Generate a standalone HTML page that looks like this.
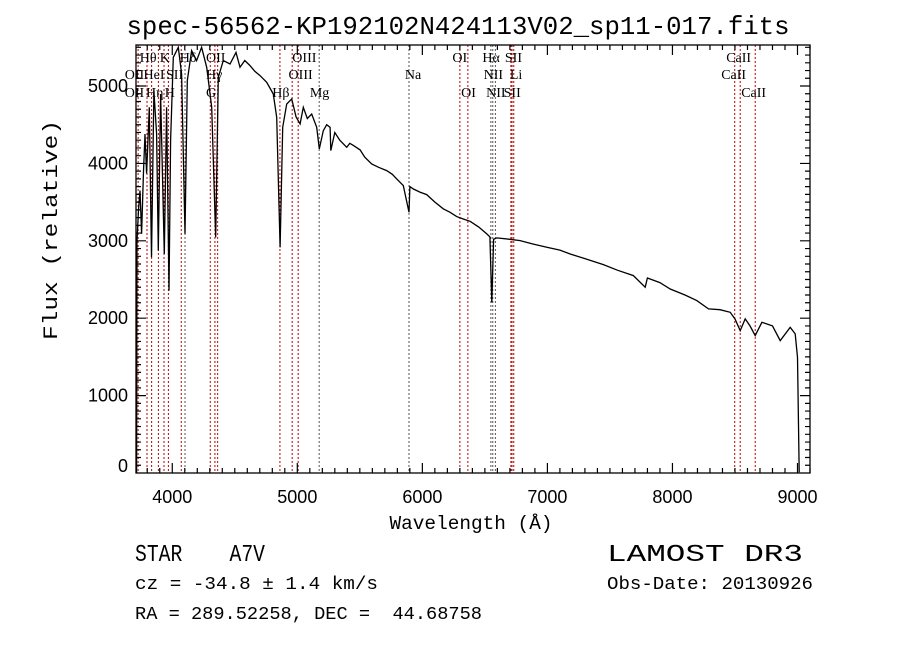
<!DOCTYPE html>
<html><head><meta charset="utf-8"><style>
html,body{margin:0;padding:0;background:#fff;}
svg{display:block;}
text{white-space:pre;}
</style></head><body>
<svg id="chart" width="900" height="649" xmlns="http://www.w3.org/2000/svg">
<rect width="900" height="649" fill="#fff"/>
<text x="458" y="34" text-anchor="middle" font-family="Liberation Mono, monospace" font-size="26" textLength="663" lengthAdjust="spacingAndGlyphs">spec-56562-KP192102N424113V02_sp11-017.fits</text>
<g id="lines"></g>
<g id="labels" font-family="Liberation Serif, serif" font-size="14"></g>
<g id="axes"></g>
<path id="spec" fill="none" stroke="#000" stroke-width="1.3" stroke-linejoin="miter"/>
<text x="471" y="529" text-anchor="middle" font-family="Liberation Mono, monospace" font-size="19" textLength="163" lengthAdjust="spacingAndGlyphs">Wavelength (Å)</text>
<text transform="translate(57,230) rotate(-90)" text-anchor="middle" font-family="Liberation Mono, monospace" font-size="20" textLength="220" lengthAdjust="spacingAndGlyphs">Flux (relative)</text>
<g font-family="Liberation Mono, monospace" fill="#000">
<text x="135" y="561" font-size="24" textLength="130" lengthAdjust="spacingAndGlyphs" xml:space="preserve">STAR    A7V</text>
<text x="607" y="561" font-size="24" textLength="196" lengthAdjust="spacingAndGlyphs">LAMOST DR3</text>
<text x="135" y="589" font-size="18" textLength="243" lengthAdjust="spacingAndGlyphs">cz = -34.8 ± 1.4 km/s</text>
<text x="607" y="589" font-size="18" textLength="206" lengthAdjust="spacingAndGlyphs">Obs-Date: 20130926</text>
<text x="135" y="619" font-size="18" textLength="347" lengthAdjust="spacingAndGlyphs" xml:space="preserve">RA = 289.52258, DEC =  44.68758</text>
</g>
</svg>
<script>
const wavelengths=[3715,3718,3730,3742,3755,3770,3782,3795,3816,3834,3853,3875,3888,3907,3936,3955,3974,3987,4008,4048,4075,4102,4120,4155,4195,4235,4275,4315,4347,4368,4408,4462,4510,4542,4580,4622,4660,4702,4755,4808,4835,4862,4883,4915,4955,4990,5022,5048,5080,5115,5155,5176,5208,5235,5262,5268,5300,5340,5395,5420,5450,5502,5540,5595,5650,5715,5760,5795,5848,5893,5900,5928,5980,6035,6100,6168,6220,6275,6330,6382,6450,6515,6540,6555,6570,6595,6700,6782,6880,6995,7100,7182,7300,7448,7560,7688,7782,7800,7900,7982,8100,8195,8288,8380,8462,8500,8542,8582,8620,8662,8715,8800,8862,8942,8982,9000,9014];
const fluxes=[0,3000,3400,3650,3090,3900,4380,3870,4725,2787,4940,4380,2873,4897,2830,4725,2357,4295,5371,5500,5156,3089,5070,5457,5328,5500,5242,4725,3045,5113,5328,5285,5435,5242,5330,5264,5190,5134,5048,4897,4595,2916,4466,4768,4833,4600,4510,4725,4580,4639,4466,4187,4423,4500,4467,4165,4400,4300,4208,4260,4230,4174,4080,3993,3950,3907,3860,3800,3713,3368,3700,3670,3630,3597,3500,3412,3370,3313,3280,3252,3180,3089,3050,2205,3020,3037,3020,3003,2960,2916,2880,2830,2770,2693,2620,2550,2400,2520,2460,2378,2300,2227,2120,2110,2076,1990,1840,1991,1900,1775,1947,1900,1711,1882,1797,1495,10];
const lineWaves=[3727,3798,3835,3889,3934,3969,4072,4102,4304,4341,4363,4861,4959,5007,5175,5893,6300,6364,6548,6563,6584,6708,6717,6731,8498,8542,8662];
const lineGray=[0,0,0,0,0,0,0,1,0,0,0,0,0,0,1,1,0,0,1,1,1,0,0,0,0,0,0];
const labelTexts=["Hθ","K","Hδ","OII","OIII","OI","Hα","SII","CaII","OII","HeI","SII","Hγ","OIII","Na","NII","Li","CaII","OII","Hη","H","G","Hβ","Mg","OI","NII","SII","CaII"];
const labelWaves=[3740,3900,4060,4270,4960,6240,6480,6660,8430,3620,3770,3950,4270,4930,5860,6490,6700,8390,3620,3790,3940,4270,4800,5100,6310,6510,6650,8550];
const labelRows=[1,1,1,1,1,1,1,1,1,2,2,2,2,2,2,2,2,2,3,3,3,3,3,3,3,3,3,3];
const xTicks=[4000,5000,6000,7000,8000,9000];
const yTicks=[0,1000,2000,3000,4000,5000];

const X0=136,X1=810,Y0=473,Y1=45,XMIN=3710,XMAX=9100,YMIN=0,YMAX=5530;
const NS='http://www.w3.org/2000/svg';
function xs(v){return X0+(v-XMIN)/(XMAX-XMIN)*(X1-X0);}
function ys(v){return Y0-(v-YMIN)/(YMAX-YMIN)*(Y0-Y1);}
function mk(tag,parent){const e=document.createElementNS(NS,tag);parent.appendChild(e);return e;}

const lg=document.getElementById('lines');
lineWaves.forEach((w,i)=>{
  const l=mk('line',lg);
  
  
  const x=xs(w);
  l.setAttribute('x1',x);l.setAttribute('x2',x);l.setAttribute('y1',Y1);l.setAttribute('y2',Y0);
  l.setAttribute('stroke',lineGray[i]?'#555':'#c00000');
  l.setAttribute('stroke-width','1');l.setAttribute('stroke-dasharray','2,2');
});
const lb=document.getElementById('labels');
labelTexts.forEach((t,i)=>{
  const e=mk('text',lb);
  
  
  e.setAttribute('x',xs(labelWaves[i]));
  e.setAttribute('y',[0,62,79,97][labelRows[i]]);
  e.textContent=t;
});
const ax=document.getElementById('axes');
const fr=mk('rect',ax);


fr.setAttribute('x',X0);fr.setAttribute('y',Y1);fr.setAttribute('width',X1-X0);fr.setAttribute('height',Y0-Y1);
fr.setAttribute('fill','none');fr.setAttribute('stroke','#000');fr.setAttribute('stroke-width','1.3');
let d='';
for(let w=3800;w<=9100;w+=100){const x=xs(w);const L=(w%1000===0)?10:5;d+=`M${x},${Y0}v${-L}M${x},${Y1}v${L}`;}
for(let f=100;f<=5500;f+=100){const y=ys(f);const L=(f%1000===0)?10:5;d+=`M${X0},${y}h${L}M${X1},${y}h${-L}`;}
const tk=mk('path',ax);


tk.setAttribute('d',d);tk.setAttribute('stroke','#000');tk.setAttribute('stroke-width','1.2');
xTicks.forEach(v=>{
  const t=mk('text',ax);
  
  
  t.setAttribute('x',xs(v));t.setAttribute('y',503);t.setAttribute('text-anchor','middle');
  t.setAttribute('font-family','Liberation Sans, sans-serif');t.setAttribute('font-size','18');
  t.textContent=v;
});
yTicks.forEach(v=>{
  const t=mk('text',ax);
  
  
  t.setAttribute('x',128);t.setAttribute('y',Math.min(ys(v)+6,472));t.setAttribute('text-anchor','end');
  t.setAttribute('font-family','Liberation Sans, sans-serif');t.setAttribute('font-size','18');
  t.textContent=v;
});
let p='';
wavelengths.forEach((w,i)=>{const y=Math.max(Y1,ys(fluxes[i]));p+=(i?'L':'M')+xs(w).toFixed(1)+','+y.toFixed(1);});
document.getElementById('spec').setAttribute('d',p);
</script>
</body></html>
